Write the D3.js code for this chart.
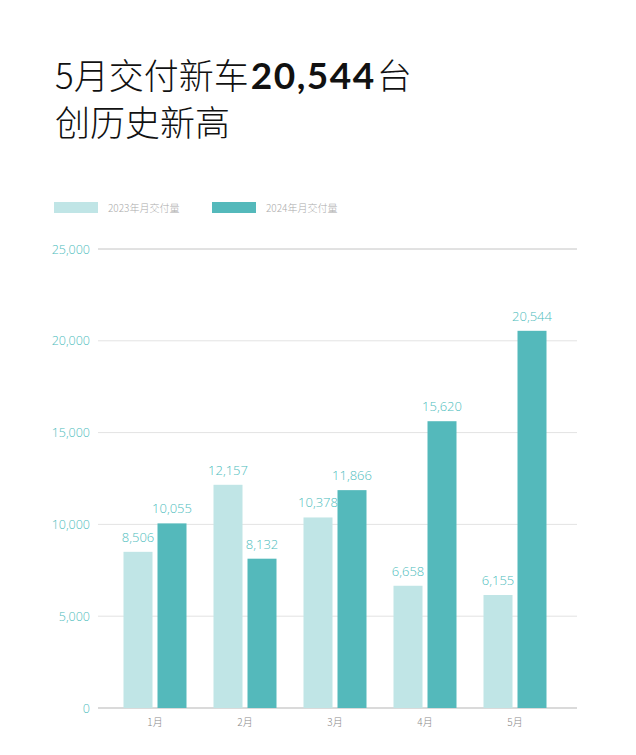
<!DOCTYPE html>
<html><head><meta charset="utf-8">
<script src="https://cdn.jsdelivr.net/npm/d3@7"></script>
<style>body{margin:0;background:#fff;font-family:"Noto Sans CJK SC","Noto Sans",sans-serif;}</style>
</head><body>
<svg id="c" width="636" height="755"></svg>
<script>
const months = ["1月","2月","3月","4月","5月"];
const series2023 = [8506,12157,10378,6658,6155];
const series2024 = [10055,8132,11866,15620,20544];
const seriesNames = ["2023年月交付量","2024年月交付量"];
const yTicks = [0,5000,10000,15000,20000,25000];

const svg = d3.select("#c");
const colors = ["#c0e5e6","#54b9bb"];

// title
const t1 = svg.append("text").attr("x",55).attr("y",89).attr("font-size",35).attr("fill","#111")
  .attr("font-weight","300").attr("font-family","'Noto Sans CJK SC',sans-serif");
t1.append("tspan").text("5月交付新车");
t1.append("tspan").attr("font-weight","bold").attr("font-size",37).attr("font-family","Lato,'Noto Sans',sans-serif")
  .attr("letter-spacing",1.5).attr("dx",2).text("20,544");
t1.append("tspan").attr("dx",1).text("台");
svg.append("text").attr("x",55).attr("y",136).attr("font-size",35).attr("font-weight","300").attr("fill","#111").text("创历史新高");

// legend
const lx = [54,212];
seriesNames.forEach((n,i)=>{
  svg.append("rect").attr("x",lx[i]).attr("y",202).attr("width",44).attr("height",11).attr("fill",colors[i]);
  svg.append("text").attr("x",lx[i]+54).attr("y",211.5).attr("font-size",10).attr("font-weight","300").attr("fill","#aaa").text(n);
});

const y = d3.scaleLinear().domain([0,25000]).range([708,249]);
const x0 = d3.scaleBand().domain(months).range([110,560]);
const x1 = d3.scaleBand().domain([0,1]).range([-31.5,31.5]).paddingInner(5/34);

// grid
const g = svg.append("g");
yTicks.forEach(v=>{
  g.append("line").attr("x1",98).attr("x2",577).attr("y1",y(v)).attr("y2",y(v))
   .attr("stroke", v===0 ? "#b5b5b5" : (v===25000 ? "#c4c4c4" : "#e3e3e3")).attr("stroke-width",1);
});
const yAxis = d3.axisLeft(y).tickValues(yTicks).tickFormat(d3.format(",")).tickSize(0).tickPadding(0);
const ya = svg.append("g").attr("transform","translate(90,0)").call(yAxis);
ya.select(".domain").remove();
ya.selectAll("text").attr("fill","#4dbdbd").attr("font-size",12.5).attr("font-family","'Open Sans','Noto Sans',sans-serif").attr("font-weight","300");

// bars
const data = months.map((m,i)=>({m, vals:[series2023[i],series2024[i]]}));
const grp = svg.append("g").selectAll("g").data(data).join("g")
  .attr("transform",d=>`translate(${x0(d.m)+x0.bandwidth()/2},0)`);
grp.selectAll("rect").data(d=>d.vals.map((v,k)=>({v,k}))).join("rect")
  .attr("x",d=>x1(d.k)).attr("width",x1.bandwidth())
  .attr("y",d=>y(d.v)).attr("height",d=>y(0)-y(d.v)).attr("fill",d=>colors[d.k]);
grp.selectAll("text.v").data(d=>d.vals.map((v,k)=>({v,k}))).join("text").attr("class","v")
  .attr("x",d=>x1(d.k)+x1.bandwidth()/2).attr("y",d=>y(d.v)-10)
  .attr("text-anchor","middle").attr("font-size",13).attr("fill","#4dbdbd")
  .attr("font-family","'Open Sans','Noto Sans',sans-serif").attr("font-weight","300")
  .text(d=>d3.format(",")(d.v));

// x axis labels
const xa = svg.append("g").attr("transform","translate(0,708)").call(d3.axisBottom(x0).tickSize(0).tickPadding(11));
xa.select(".domain").remove();
xa.selectAll("text").attr("fill","#888").attr("font-size",10).attr("font-weight","300").attr("font-family","'Noto Sans CJK SC',sans-serif");
</script>
</body></html>
